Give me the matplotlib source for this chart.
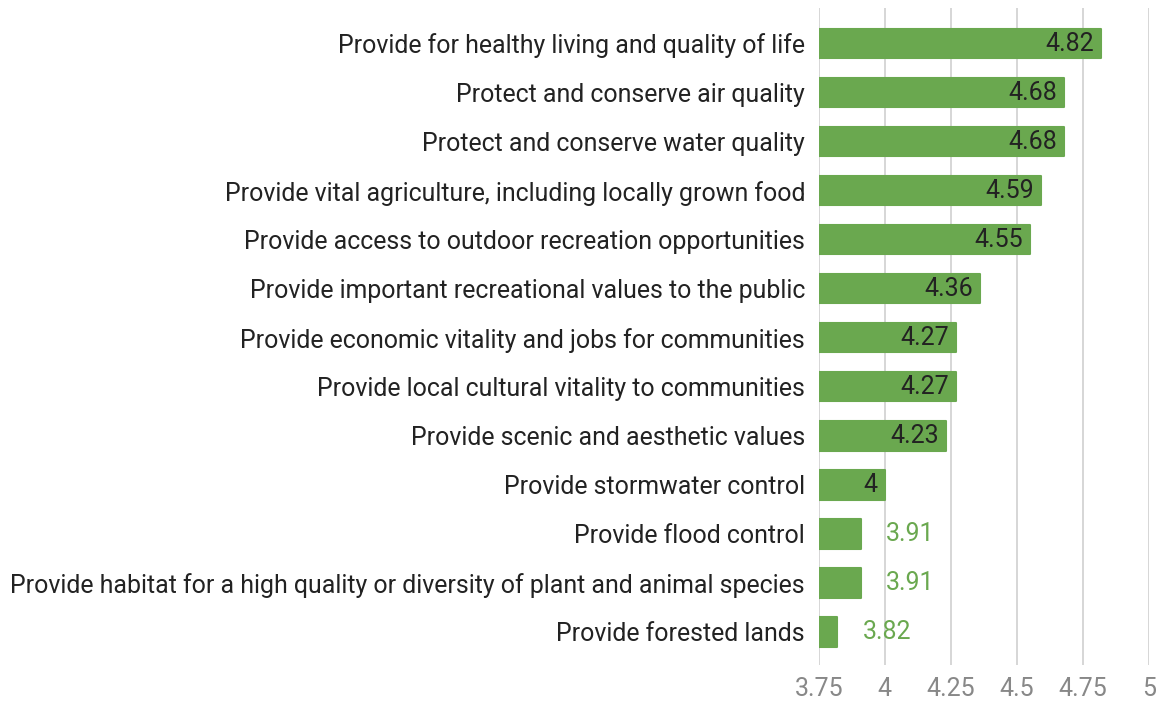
import matplotlib.pyplot as plt
from matplotlib.transforms import offset_copy

categories = [
    "Provide for healthy living and quality of life",
    "Protect and conserve air quality",
    "Protect and conserve water quality",
    "Provide vital agriculture, including locally grown food",
    "Provide access to outdoor recreation opportunities",
    "Provide important recreational values to the public",
    "Provide economic vitality and jobs for communities",
    "Provide local cultural vitality to communities",
    "Provide scenic and aesthetic values",
    "Provide stormwater control",
    "Provide flood control",
    "Provide habitat for a high quality or diversity of plant and animal species",
    "Provide forested lands",
]
values = [4.82, 4.68, 4.68, 4.59, 4.55, 4.36, 4.27, 4.27, 4.23, 4.0, 3.91, 3.91, 3.82]
value_labels = ["4.82", "4.68", "4.68", "4.59", "4.55", "4.36", "4.27", "4.27", "4.23", "4", "3.91", "3.91", "3.82"]
xticks = [3.75, 4, 4.25, 4.5, 4.75, 5]
xtick_labels = ["3.75", "4", "4.25", "4.5", "4.75", "5"]

green = "#6aa84f"
plt.rcParams["font.family"] = ["Roboto", "DejaVu Sans"]

fig = plt.figure(figsize=(11.65, 7.02), dpi=100)
ax = fig.add_axes([0.703, 0.053, 0.283, 0.936])

base = 3.75
y = list(range(len(categories)))
widths = [v - base for v in values]
ax.barh(y, widths, left=base, height=0.6, color=green, edgecolor=green,
        linewidth=1.5, joinstyle="round", zorder=3)

for i, (v, lab) in enumerate(zip(values, value_labels)):
    if v - base > 0.2:
        tr = offset_copy(ax.transData, fig=fig, x=-7, y=0, units="dots")
        ax.text(v, i, lab, transform=tr, ha="right", va="center",
                fontsize=18, color="#222222", zorder=4)
    else:
        tr = offset_copy(ax.transData, fig=fig, x=25, y=0, units="dots")
        ax.text(v, i, lab, transform=tr, ha="left", va="center",
                fontsize=18, color=green, zorder=4)

ax.set_xlim(3.75, 5)
ax.set_ylim(12.67, -0.73)
ax.set_xticks(xticks)
ax.set_xticklabels(xtick_labels, fontsize=18, color="#888888")
ax.set_yticks(y)
ax.set_yticklabels(categories, fontsize=17.9, color="#222222")
ax.tick_params(axis="both", length=0)
ax.tick_params(axis="x", pad=9)
ax.tick_params(axis="y", pad=10)
ax.grid(axis="x", color="#d0d0d0", linewidth=1.2, zorder=0)
for s in ax.spines.values():
    s.set_visible(False)

fig.savefig("out.png", dpi=100)
